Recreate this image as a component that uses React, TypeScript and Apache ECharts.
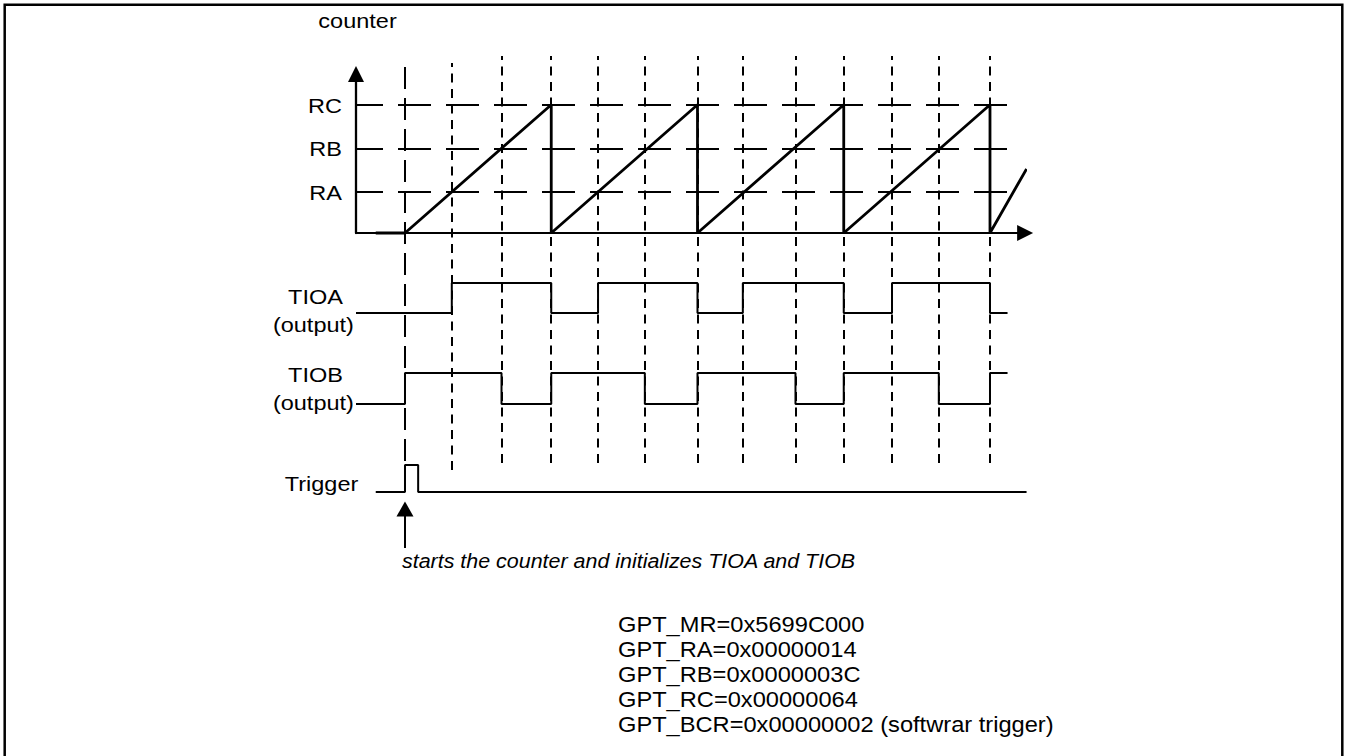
import React, { useEffect, useRef } from "react";
import * as echarts from "echarts";

// ---------- data (time axis in counter units, one period = 100) ----------
const X_MIN = -33.5;
const X_MAX = 424;

const levelNames = ["RC", "RB", "RA"];
const levelValues = [100, 66, 32];
const levelLineEnd = 412;

// counter: saw-tooth [time, count]
const counterData: [number, number][] = [
  [-20, 0], [0, 0], [100, 100], [100, 0], [200, 100], [200, 0],
  [300, 100], [300, 0], [400, 100], [400, 0], [425, 50],
];

// compare events (time at which counter reaches RA / RB / RC)
const raCross = [32, 132, 231, 333];
const rbCross = [66, 164, 267, 365];
const rcCross = [100, 200, 300, 400];

// TIOA / TIOB / Trigger levels (0 = low, 1 = high), step at each time
const tioaData: [number, number][] = [
  [-33.5, 0], [32, 1], [100, 0], [132, 1], [200, 0], [231, 1], [300, 0], [333, 1], [400, 0], [412, 0],
];
const tiobData: [number, number][] = [
  [-33.5, 0], [0, 1], [66, 0], [100, 1], [164, 0], [200, 1], [267, 0], [300, 1], [365, 0], [400, 1], [412, 1],
];
const triggerData: [number, number][] = [
  [-20, 0], [0, 1], [9, 0], [425, 0],
];
const triggerTime = 0;

const gptLines = [
  "GPT_MR=0x5699C000",
  "GPT_RA=0x00000014",
  "GPT_RB=0x0000003C",
  "GPT_RC=0x00000064",
  "GPT_BCR=0x00000002 (softwrar trigger)",
];

// ---------- layout ----------
const PX_PER_UNIT = 1.4625;
const GRID_LEFT = 356;
const GRID_WIDTH = (X_MAX - X_MIN) * PX_PER_UNIT;
const FONT = "Arial, 'Liberation Sans', sans-serif";

const gridBoxes = [
  { top: 74, height: 159 }, // 0 counter
  { top: 283, height: 30 }, // 1 TIOA
  { top: 373, height: 31 }, // 2 TIOB
  { top: 465, height: 27 }, // 3 Trigger
  { top: 56, height: 407 }, // 4 compare markers
  { top: 63, height: 407 }, // 5 first RA marker
  { top: 65, height: 427 }, // 6 trigger marker
  { top: 509, height: 39 }, // 7 annotation arrow
];

function label(text: string, x: number, y: number, align: string, opts: any = {}) {
  return {
    type: "text",
    x,
    y,
    scaleX: opts.scaleX ?? 1.12,
    silent: true,
    style: {
      text,
      fill: "#000",
      fontSize: opts.fontSize ?? 21,
      fontFamily: FONT,
      fontStyle: opts.italic ? "italic" : "normal",
      align,
      verticalAlign: "middle",
    },
  };
}

export default function App() {
  const ref = useRef<HTMLDivElement>(null);

  useEffect(() => {
    if (!ref.current) return;
    const chart = echarts.init(ref.current, undefined, { renderer: "svg" });

    const black = "#000";
    const grid = gridBoxes.map((g) => ({ left: GRID_LEFT, width: GRID_WIDTH, top: g.top, height: g.height }));

    const xAxis = gridBoxes.map((_, i) => ({
      gridIndex: i,
      type: "value",
      min: X_MIN,
      max: X_MAX,
      show: i === 0,
      axisLine: {
        show: i === 0,
        onZero: false,
        symbol: ["none", "triangle"],
        symbolSize: [16, 16],
        lineStyle: { color: black, width: 2.2 },
      },
      axisTick: { show: false },
      axisLabel: { show: false },
      splitLine: { show: false },
    }));

    const yAxis = gridBoxes.map((_, i) => ({
      gridIndex: i,
      type: "value",
      min: 0,
      max: i === 0 ? 124 : 1,
      show: i === 0,
      axisLine: {
        show: i === 0,
        onZero: false,
        symbol: ["none", "triangle"],
        symbolSize: [16, 16],
        lineStyle: { color: black, width: 2.3 },
      },
      axisTick: { show: false },
      axisLabel: { show: false },
      splitLine: { show: false },
    }));

    const baseLine = (idx: number, data: any, width: number, extra: any = {}) => ({
      type: "line",
      xAxisIndex: idx,
      yAxisIndex: idx,
      data,
      symbol: "none",
      silent: true,
      clip: false,
      lineStyle: { color: black, width },
      ...extra,
    });

    const markerSeries = (idx: number, times: number[], dash: number[]) => ({
      type: "line",
      xAxisIndex: idx,
      yAxisIndex: idx,
      data: [],
      silent: true,
      markLine: {
        silent: true,
        symbol: ["none", "none"],
        label: { show: false },
        lineStyle: { color: black, width: 2, type: dash },
        emphasis: { disabled: true },
        data: times.map((t) => ({ xAxis: t })),
      },
    });

    const compareTimes = [...rbCross, ...rcCross, ...raCross.slice(1)].sort((a, b) => a - b);

    const series: any[] = [
      baseLine(0, counterData, 2.8, {
        markLine: {
          silent: true,
          symbol: ["none", "none"],
          label: { show: false },
          lineStyle: { color: black, width: 2, type: [33, 15], dashOffset: 6 },
          emphasis: { disabled: true },
          data: levelValues.map((v, i) => [
            { coord: [X_MIN, v], name: levelNames[i] },
            { coord: [levelLineEnd, v] },
          ]),
        },
      }),
      baseLine(1, tioaData, 2, { step: "end" }),
      baseLine(2, tiobData, 2, { step: "end" }),
      baseLine(3, triggerData, 2, { step: "end" }),
      markerSeries(4, compareTimes, [9, 6.5]),
      markerSeries(5, raCross.slice(0, 1), [9, 6.5]),
      markerSeries(6, [triggerTime], [22, 9]),
      {
        type: "line",
        xAxisIndex: 7,
        yAxisIndex: 7,
        data: [],
        silent: true,
        markLine: {
          silent: true,
          symbol: ["none", "triangle"],
          symbolSize: [17, 15],
          label: { show: false },
          lineStyle: { color: black, width: 2, type: "solid" },
          emphasis: { disabled: true },
          data: [[{ coord: [triggerTime, 0] }, { coord: [triggerTime, 1] }]],
        },
      },
    ];

    const graphic: any[] = [
      {
        type: "rect",
        silent: true,
        shape: { x: 4.7, y: 4.7, width: 1337.6, height: 800 },
        style: { fill: "none", stroke: black, lineWidth: 2.5 },
      },
      label("counter", 357.5, 20.7, "center"),
      label("RC", 342, 105.8, "right"),
      label("RB", 342, 149.2, "right"),
      label("RA", 342, 192.5, "right"),
      label("TIOA", 315.5, 296.7, "center"),
      label("(output)", 313.4, 325, "center"),
      label("TIOB", 315.5, 375, "center"),
      label("(output)", 313.4, 403.3, "center"),
      label("Trigger", 358.3, 484, "right"),
      label("starts the counter and initializes TIOA and TIOB", 402, 561, "left", {
        italic: true,
        fontSize: 19.5,
        scaleX: 1.1,
      }),
      ...gptLines.map((t, i) => label(t, 618, 624.5 + i * 25, "left", { fontSize: 21.5, scaleX: 1.1 })),
    ];

    chart.setOption({
      animation: false,
      backgroundColor: "#fff",
      textStyle: { fontFamily: FONT },
      grid,
      xAxis,
      yAxis,
      series,
      graphic,
    });

    return () => chart.dispose();
  }, []);

  return (
    <div
      ref={ref}
      style={{ position: "absolute", left: 0, top: 0, width: 1350, height: 756, background: "#fff" }}
    />
  );
}
